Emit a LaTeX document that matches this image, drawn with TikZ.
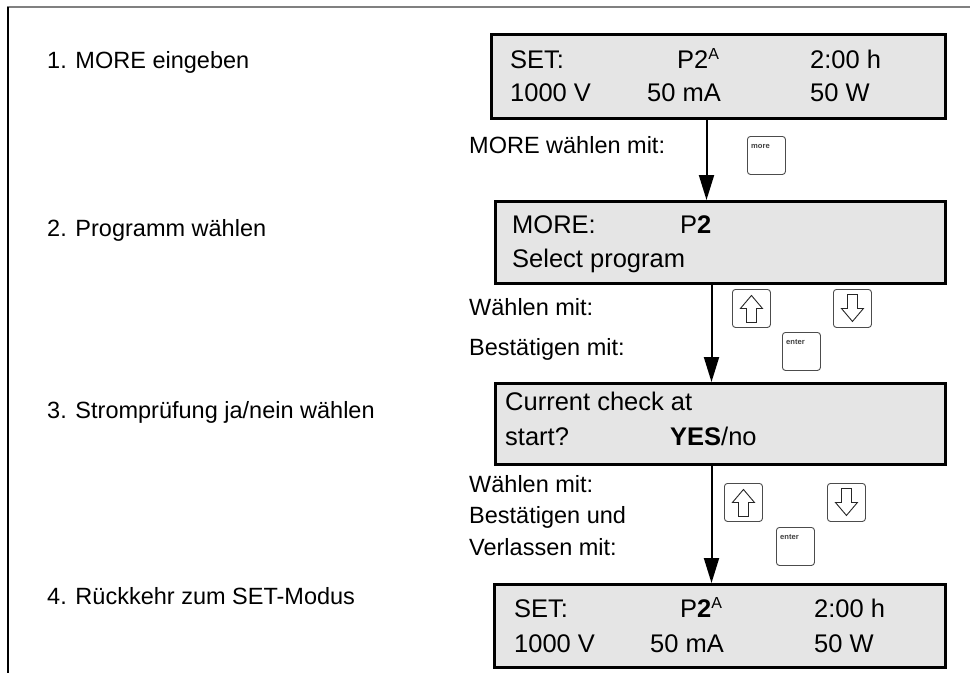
\documentclass[tikz,border=0pt]{standalone}
\usepackage{fontspec}
\setmainfont{Liberation Sans}
\usetikzlibrary{arrows.meta}
\definecolor{lcd}{HTML}{E5E5E5}
\newcommand\supA{\raisebox{8.5pt}{\fontsize{16}{16}\selectfont A}}
\tikzset{
  uparr/.pic={\draw[line width=0.9pt, black!85, line join=miter] (0,-13) -- (11,0) -- (5,0) -- (5,14) -- (-5,14) -- (-5,0) -- (-11,0) -- cycle;},
  downarr/.pic={\draw[line width=0.9pt, black!85, line join=miter] (0,13) -- (11,0) -- (5,0) -- (5,-14) -- (-5,-14) -- (-5,0) -- (-11,0) -- cycle;}
}
\begin{document}
\begin{tikzpicture}[x=1pt,y=-1pt,
 lbl/.style={anchor=base west, inner sep=0pt, font=\fontsize{23.5}{28}\selectfont},
 lcdtxt/.style={anchor=base west, inner sep=0pt, font=\fontsize{25.5}{30}\selectfont},
 lcdbox/.style={draw=black, line width=3pt, fill=lcd, inner sep=0pt, anchor=north west, minimum height=83pt},
 flow/.style={line width=2pt, -{Triangle[width=15pt,length=25pt]}},
 keybox/.style={draw=black!70, line width=0.9pt, rounded corners=3pt, fill=white, minimum width=38pt, minimum height=38pt, anchor=north west, inner sep=0pt},
 keytxt/.style={anchor=base west, inner sep=0pt, font=\fontsize{7.6}{8}\selectfont\bfseries, text=black!75},
]
\useasboundingbox (0,0) rectangle (970,673);
% frame
\draw[gray, line width=2pt] (7,7) -- (970,7);
\draw[black, line width=1.5pt] (8,7) -- (8,673);

% left step labels
\node[lbl] (s1) at (47,68) {1. MORE eingeben};
\node[lbl] (s2) at (47,236) {2. Programm wählen};
\node[lbl] (s3) at (47,418) {3. Stromprüfung ja/nein wählen};
\node[lbl] (s4) at (47,604) {4. Rückkehr zum SET-Modus};

% LCD boxes
\node[lcdbox, minimum width=454pt, minimum height=84pt] (b1) at (490,33) {};
\node[lcdbox, minimum width=450pt, minimum height=82pt] (b2) at (494,200) {};
\node[lcdbox, minimum width=450pt, minimum height=81pt] (b3) at (494,382) {};
\node[lcdbox, minimum width=451pt, minimum height=83pt] (b4) at (493,583) {};

% box 1 text
\node[lcdtxt] (t11) at (510,68) {SET:};
\node[lcdtxt] (t12) at (677,68) {P2\supA};
\node[lcdtxt] (t13) at (810,68) {2:00 h};
\node[lcdtxt] (t14) at (510,101) {1000 V};
\node[lcdtxt] (t15) at (647,101) {50 mA};
\node[lcdtxt] (t16) at (810,101) {50 W};

% box 2 text
\node[lcdtxt] (t21) at (512,233) {MORE:};
\node[lcdtxt] (t22) at (680,233) {P\textbf{2}};
\node[lcdtxt] (t23) at (512,267) {Select program};

% box 3 text
\node[lcdtxt] (t31) at (505,410) {Current check at};
\node[lcdtxt] (t32) at (505,445) {start?};
\node[lcdtxt] (t33) at (670,445) {\textbf{YES}/no};

% box 4 text
\node[lcdtxt] (t41) at (514,617) {SET:};
\node[lcdtxt] (t42) at (680,617) {P\textbf{2}\supA};
\node[lcdtxt] (t43) at (814,617) {2:00 h};
\node[lcdtxt] (t44) at (514,652) {1000 V};
\node[lcdtxt] (t45) at (650,652) {50 mA};
\node[lcdtxt] (t46) at (814,652) {50 W};

% middle labels
\node[lbl] (m1) at (469,153) {MORE wählen mit:};
\node[lbl] (m2) at (469,315) {Wählen mit:};
\node[lbl] (m3) at (469,355) {Bestätigen mit:};
\node[lbl] (m4) at (469,492) {Wählen mit:};
\node[lbl] (m5) at (469,523) {Bestätigen und};
\node[lbl] (m6) at (469,555) {Verlassen mit:};

% flow arrows
\draw[flow] ([xshift=-12pt]b1.south) -- ([xshift=-12pt]b1.south |- b2.north);
\draw[flow] ([xshift=-9pt]b2.south) -- ([xshift=-9pt]b2.south |- b3.north);
\draw[flow] ([xshift=-9pt]b3.south) -- ([xshift=-9pt]b3.south |- b4.north);

% keys step 1
\node[keybox] (kmore) at (747,136) {};
\node[keytxt] (kmoret) at ([xshift=4pt,yshift=-12pt]kmore.north west) {more};

% keys step 2
\node[keybox] (ku2) at (732,289) {};
\pic at (ku2.center) {uparr};
\node[keybox] (kd2) at (833,289) {};
\pic at (kd2.center) {downarr};
\node[keybox] (ke2) at (782,332) {};
\node[keytxt] (ke2t) at ([xshift=4pt,yshift=-12pt]ke2.north west) {enter};

% keys step 3
\node[keybox] (ku3) at (724,483) {};
\pic at (ku3.center) {uparr};
\node[keybox] (kd3) at (827,483) {};
\pic at (kd3.center) {downarr};
\node[keybox] (ke3) at (776,527) {};
\node[keytxt] (ke3t) at ([xshift=4pt,yshift=-12pt]ke3.north west) {enter};
\end{tikzpicture}
\end{document}
